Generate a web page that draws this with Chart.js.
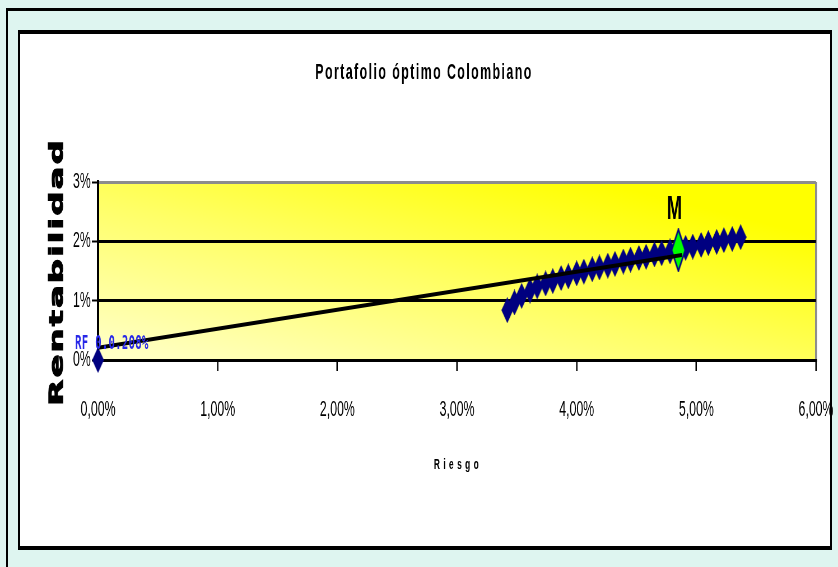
<!DOCTYPE html>
<html>
<head>
<meta charset="utf-8">
<script src="https://cdn.jsdelivr.net/npm/chart.js@4"></script>
<style>
  html, body { margin: 0; padding: 0; }
  body { width: 838px; height: 567px; background: #def5f0; position: relative; overflow: hidden; }
  #frame { position: absolute; left: 6px; top: 8px; width: 900px; height: 600px; border-top: 3px solid #000; border-left: 2px solid #000; }
  #card { position: absolute; left: 18px; top: 30px; width: 810px; height: 512px; background: #fff; border: 2px solid #000; border-top-width: 4px; border-bottom-width: 4px; }
  #c { position: absolute; left: 0; top: 0; }
</style>
</head>
<body>
<div id="frame"></div>
<div id="card"></div>
<canvas id="c" width="1496" height="567" style="width:838px;height:567px"></canvas>
<script>
// The drawing surface is wider than its box, so everything is condensed horizontally.
const S = 838 / 1496;

// Axis tick labels
const xTickLabels = ['0,00%', '1,00%', '2,00%', '3,00%', '4,00%', '5,00%', '6,00%'];
const yTickLabels = ['0%', '1%', '2%', '3%'];

// Efficient frontier: risk (%) and return (%)
const frontierRisk = [3.42, 3.48, 3.54, 3.61, 3.67, 3.74, 3.80, 3.87, 3.93, 4.00, 4.06,
                      4.13, 4.19, 4.26, 4.32, 4.39, 4.45, 4.52, 4.58, 4.65, 4.71, 4.78,
                      4.84, 4.91, 4.97, 5.04, 5.10, 5.17, 5.23, 5.30, 5.37];
const frontierReturn = [0.84, 0.97, 1.08, 1.17, 1.24, 1.29, 1.33, 1.38, 1.41, 1.46, 1.49,
                        1.53, 1.56, 1.59, 1.62, 1.66, 1.69, 1.72, 1.74, 1.78, 1.80, 1.83,
                        1.86, 1.89, 1.91, 1.94, 1.97, 1.99, 2.02, 2.04, 2.07];

// Capital market line from the risk-free rate
const cmlRisk = [0, 4.88];
const cmlReturn = [0.208, 1.77];

// Market (tangency) portfolio
const marketRisk = [4.85];
const marketReturn = [1.85];

// Risk-free marker
const rfRisk = [0];
const rfReturn = [0];
const rfLabel = 'RF 0.0.208%';

function diamond(w, h, fill, stroke, lw) {
  const c = document.createElement('canvas');
  c.width = Math.round(w); c.height = Math.round(h);
  const g = c.getContext('2d');
  const p = lw / 2;
  g.beginPath();
  g.moveTo(c.width / 2, p);
  g.lineTo(c.width - p, c.height / 2);
  g.lineTo(c.width / 2, c.height - p);
  g.lineTo(p, c.height / 2);
  g.closePath();
  g.fillStyle = fill; g.fill();
  if (lw) { g.lineWidth = lw; g.strokeStyle = stroke; g.stroke(); }
  return c;
}
const navyMark = diamond(12 / S, 26, '#000080', '#000080', 0);
const marketMark = diamond(15 / S, 44, '#00ff00', '#000080', 2.5);

const pts = (xs, ys) => xs.map((x, i) => ({ x: x, y: ys[i] }));

const decor = {
  id: 'decor',
  beforeDraw(chart) {
    const { ctx, chartArea: a } = chart;
    ctx.save();
    ctx.scale(1 / S, 1);
    const L = a.left * S, R = a.right * S, T = a.top, B = a.bottom;
    const w = R - L, h = B - T;
    const k = 2 * w * h / (w * w + h * h);
    const g = ctx.createLinearGradient(L, B, L + h * k, B - w * k);
    g.addColorStop(0, '#ffffcc');
    g.addColorStop(0.45, '#ffff66');
    g.addColorStop(0.85, '#ffff00');
    g.addColorStop(1, '#ffff00');
    ctx.fillStyle = g;
    ctx.fillRect(L, T, w, h);
    ctx.restore();
  },
  afterDraw(chart) {
    const { ctx } = chart;
    const xs = chart.scales.x, ys = chart.scales.y;
    ctx.save();
    ctx.fillStyle = '#000';
    ctx.strokeStyle = '#000';
    ctx.textAlign = 'center';
    ctx.textBaseline = 'middle';

    ctx.font = 'bold 22px "Liberation Sans", Arial, sans-serif';
    ctx.letterSpacing = '2.6px';
    ctx.fillText('Portafolio óptimo Colombiano', 424 / S, 73);

    ctx.font = 'bold 15px "Liberation Sans", Arial, sans-serif';
    ctx.letterSpacing = '6px';
    ctx.fillText('Riesgo', 458 / S, 465);

    ctx.save();
    ctx.translate(58 / S, 272);
    ctx.rotate(-Math.PI / 2);
    ctx.font = 'bold 34px "DejaVu Sans", sans-serif';
    ctx.letterSpacing = '2px';
    ctx.lineWidth = 1.5;
    ctx.fillText('Rentabilidad', 0, 0);
    ctx.strokeText('Rentabilidad', 0, 0);
    ctx.restore();

    ctx.letterSpacing = '0px';
    ctx.font = 'bold 33px "Liberation Sans", Arial, sans-serif';
    ctx.fillText('M', xs.getPixelForValue(marketRisk[0]) - 4 / S, ys.getPixelForValue(marketReturn[0]) - 40);

    ctx.textAlign = 'left';
    ctx.fillStyle = '#2828e8';
    ctx.font = 'bold 19px "DejaVu Sans Mono", monospace';
    ctx.letterSpacing = '0.5px';
    ctx.fillText(rfLabel, xs.getPixelForValue(cmlRisk[0]) - 23 / S, ys.getPixelForValue(cmlReturn[0]) - 4);
    ctx.restore();
  }
};

Chart.defaults.font.family = '"Liberation Sans", Arial, sans-serif';
Chart.defaults.color = '#000';

new Chart(document.getElementById('c'), {
  type: 'scatter',
  data: {
    datasets: [
      { label: 'CML', data: pts(cmlRisk, cmlReturn), showLine: true, borderColor: '#000', borderWidth: 4,
        pointRadius: 0, order: 0, clip: false },
      { label: 'M', data: pts(marketRisk, marketReturn), pointStyle: marketMark, pointRadius: 10, order: 1, clip: false },
      { label: 'Frontera', data: pts(frontierRisk, frontierReturn), pointStyle: navyMark, pointRadius: 10, order: 2, clip: false },
      { label: 'RF', data: pts(rfRisk, rfReturn), pointStyle: navyMark, pointRadius: 10, order: 3, clip: false }
    ]
  },
  options: {
    responsive: false,
    animation: false,
    devicePixelRatio: 1,
    events: [],
    layout: { padding: { left: 0, right: 1496 - 816 / S, top: 182, bottom: 0 } },
    plugins: { legend: { display: false }, title: { display: false }, tooltip: { enabled: false } },
    scales: {
      x: {
        type: 'linear', min: 0, max: 6,
        ticks: { stepSize: 1, autoSkip: false, maxRotation: 0, padding: 26, color: '#000',
                 font: { size: 22 }, callback: (v, i) => xTickLabels[i] },
        grid: {
          color: c => (c.tick && c.tick.value === 6) ? '#8c8c8c' : 'rgba(0,0,0,0)',
          lineWidth: 3.5, tickColor: '#000', tickWidth: 2.5, tickLength: 11
        },
        border: { display: true, color: '#000', width: 3 },
        afterFit(scale) { scale.height = 207; scale.paddingLeft = 0; scale.paddingRight = 0; }
      },
      y: {
        type: 'linear', min: 0, max: 3,
        ticks: { stepSize: 1, padding: 2, color: '#000', font: { size: 22 }, callback: (v, i) => yTickLabels[i] },
        grid: {
          color: c => (c.tick && c.tick.value === 3) ? '#8c8c8c' : '#000',
          lineWidth: 3, tickColor: '#000', tickWidth: 2, tickLength: 11
        },
        border: { display: true, color: '#000', width: 4 },
        afterFit(scale) { scale.width = 175; }
      }
    }
  },
  plugins: [decor]
});
</script>
</body>
</html>
